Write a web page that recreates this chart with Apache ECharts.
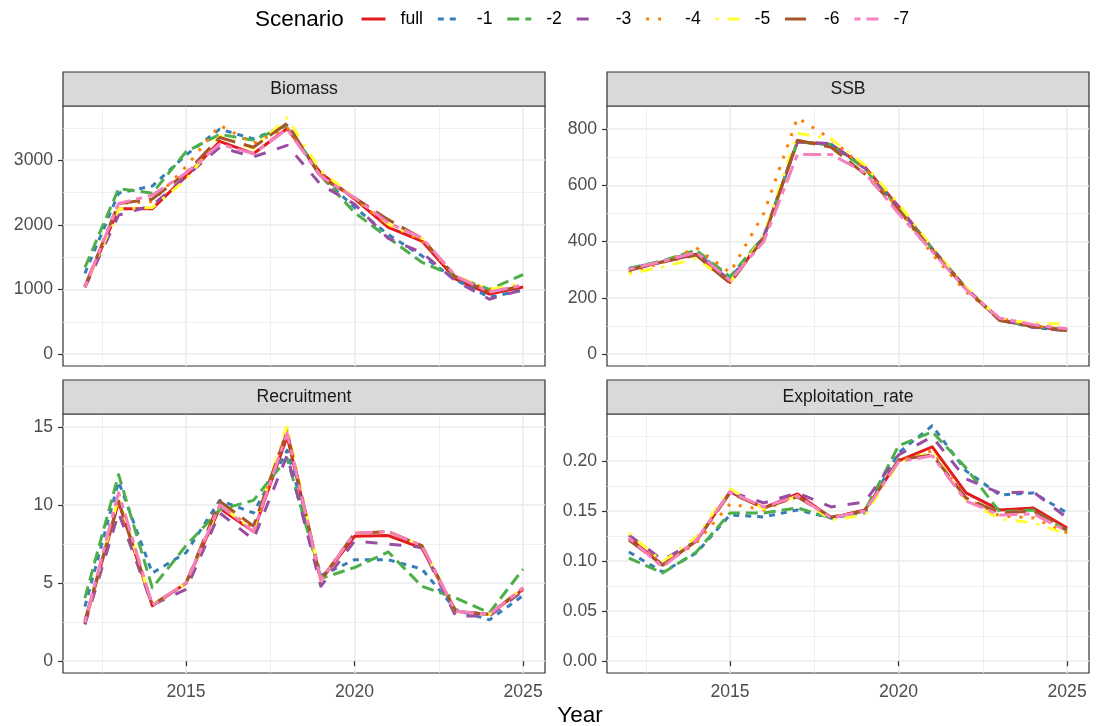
<!DOCTYPE html>
<html><head><meta charset="utf-8">
<script src="https://cdn.jsdelivr.net/npm/echarts@6/dist/echarts.min.js"></script>
<style>html,body{margin:0;padding:0;background:#fff}#c{width:1098px;height:726px}</style>
</head><body><div id="c"></div>
<script>
// ---------------- data ----------------
const years = [2012,2013,2014,2015,2016,2017,2018,2019,2020,2021,2022,2023,2024,2025];
const scenarios = ['full','-1','-2','-3','-4','-5','-6','-7'];
const colors = ['#E41A1C','#377EB8','#4DAF4A','#984EA3','#FF7F00','#FFFF33','#A65628','#F781BF'];

// rows in scenario order: full, -1 ... -7
const biomass = [
  [1040,2250,2250,2750,3290,3100,3490,2800,2400,1960,1750,1160,930,1040],
  [1250,2490,2600,3080,3480,3330,3540,2750,2270,1850,1520,1150,880,990],
  [1340,2560,2490,3130,3400,3310,3540,2760,2190,1800,1420,1200,1000,1230],
  [1030,2150,2300,2750,3200,3050,3230,2620,2320,1790,1570,1130,850,1000],
  [1050,2330,2360,2900,3540,3260,3500,2780,2400,2000,1760,1200,990,1080],
  [1040,2250,2270,2700,3370,3180,3655,2830,2430,2010,1790,1210,1000,1100],
  [1050,2330,2400,2800,3350,3200,3570,2730,2420,2080,1790,1190,960,1050],
  [1040,2330,2460,2800,3250,3100,3480,2750,2420,2030,1800,1210,960,1070]
];
const ssb = [
  [300,328,355,255,415,755,745,665,525,375,235,122,98,85],
  [305,330,365,268,418,755,745,660,520,372,232,122,95,84],
  [305,332,370,275,420,755,745,660,520,375,235,122,100,86],
  [300,328,360,262,415,755,748,662,522,375,235,122,96,82],
  [290,325,378,290,500,840,765,660,515,355,222,128,100,88],
  [285,310,340,255,420,785,765,672,535,380,238,125,110,108],
  [298,328,352,252,412,760,735,640,512,370,232,120,98,84],
  [302,330,362,262,400,710,710,645,500,365,230,128,105,90]
];
const recruitment = [
  [2.45,10.2,3.55,5.0,9.8,8.3,14.4,5.2,8.0,8.05,7.25,3.2,3.0,4.6],
  [3.5,11.5,5.65,6.95,10.3,9.5,13.5,5.5,6.5,6.5,5.9,3.3,2.65,4.2],
  [4.05,11.95,4.7,7.4,9.7,10.3,13.0,5.3,6.0,7.0,4.8,4.05,3.1,5.9],
  [2.35,9.5,3.6,4.6,9.5,7.8,13.2,4.8,7.7,7.5,7.3,2.9,2.9,4.5],
  [2.5,10.3,3.6,5.0,10.0,8.5,14.8,5.2,8.2,8.3,7.4,3.2,3.0,4.6],
  [2.5,10.5,3.6,5.0,10.0,8.4,15.08,5.2,8.2,8.3,7.4,3.2,3.0,4.7],
  [2.6,10.25,3.6,5.0,10.25,8.65,14.7,5.2,8.2,8.3,7.4,3.2,3.0,4.7],
  [2.5,10.8,3.6,5.0,10.0,8.3,14.6,5.2,8.2,8.3,7.4,3.2,3.0,4.7]
];
const exploitation = [
  [0.123,0.096,0.120,0.169,0.153,0.167,0.143,0.151,0.200,0.214,0.168,0.151,0.153,0.133],
  [0.109,0.089,0.108,0.146,0.144,0.151,0.143,0.148,0.208,0.235,0.190,0.166,0.168,0.148],
  [0.103,0.088,0.109,0.148,0.148,0.153,0.143,0.150,0.215,0.229,0.193,0.149,0.151,0.130],
  [0.126,0.101,0.120,0.169,0.158,0.168,0.154,0.159,0.206,0.224,0.182,0.168,0.169,0.143],
  [0.123,0.096,0.118,0.157,0.151,0.165,0.143,0.150,0.200,0.210,0.163,0.145,0.143,0.128],
  [0.128,0.099,0.124,0.172,0.152,0.165,0.141,0.146,0.198,0.209,0.161,0.142,0.138,0.127],
  [0.121,0.096,0.120,0.168,0.153,0.164,0.144,0.150,0.201,0.206,0.163,0.148,0.150,0.131],
  [0.123,0.094,0.121,0.169,0.154,0.165,0.143,0.150,0.199,0.205,0.160,0.146,0.147,0.130]
];

const panelNames = ['Biomass','SSB','Recruitment','Exploitation_rate'];
const xTicks = [2015,2020,2025];
const xMinor = [2012.5,2017.5,2022.5];
const biomassTicks = [0,1000,2000,3000];
const biomassMinor = [500,1500,2500,3500];
const ssbTicks = [0,200,400,600,800];
const ssbMinor = [100,300,500,700];
const recTicks = [0,5,10,15];
const recMinor = [2.5,7.5,12.5];
const expTicks = [0,0.05,0.10,0.15,0.20];
const expMinor = [0.025,0.075,0.125,0.175,0.225];

// ---------------- layout / style ----------------
const FONT = 'Liberation Sans, Arial, sans-serif';
const SMALL = 17.6, BIG = 22.5;
const PW = 482, PH = [260, 259];
const LEFTS = [63, 607], TOPS = [106, 414], STRIP_H = 34;
const LW = 3;
const dashes = [
  'solid',
  [2*LW, 2*LW],
  [4*LW, 2*LW],
  [4*LW, 4*LW],
  [1*LW, 3*LW],
  [1*LW, 3*LW, 4*LW, 3*LW],
  [7*LW, 3*LW],
  [2*LW, 2*LW, 6*LW, 2*LW]
];

const panelData = [biomass, ssb, recruitment, exploitation];
const panelTicks = [biomassTicks, ssbTicks, recTicks, expTicks];
const panelMinor = [biomassMinor, ssbMinor, recMinor, expMinor];
const xMin = years[0] - 0.05*(years[years.length-1]-years[0]);
const xMax = years[years.length-1] + 0.05*(years[years.length-1]-years[0]);

const grids = [], xAxes = [], yAxes = [], series = [], graphics = [];
for (let p = 0; p < 4; p++) {
  const col = p % 2, row = Math.floor(p / 2);
  const left = LEFTS[col], top = TOPS[row], h = PH[row];
  grids.push({left: left, top: top, width: PW, height: h, show: true,
    borderColor: '#333333', borderWidth: 1.2, backgroundColor: 'transparent', containLabel: false});
  const dmax = Math.max(...panelData[p].flat());
  const yMin = -0.05*dmax, yMax = 1.05*dmax;
  const bottomRow = row === 1;
  xAxes.push({type: 'value', gridIndex: p, min: xMin, max: xMax,
    axisLine: {show: false},
    axisTick: {show: bottomRow, length: 5, lineStyle: {color: '#333333', width: 1.2}, customValues: xTicks},
    axisLabel: {show: bottomRow, customValues: xTicks, margin: 10, color: '#4D4D4D', fontSize: SMALL, fontFamily: FONT,
      formatter: v => String(v)},
    splitLine: {show: true, lineStyle: {color: '#EBEBEB', width: 1.6}}
  });
  yAxes.push({type: 'value', gridIndex: p, min: yMin, max: yMax,
    axisLine: {show: false},
    axisTick: {show: true, length: 5, lineStyle: {color: '#333333', width: 1.2}, customValues: panelTicks[p]},
    axisLabel: {show: true, customValues: panelTicks[p], margin: 10, color: '#4D4D4D', fontSize: SMALL, fontFamily: FONT,
      formatter: p === 3 ? (v => v.toFixed(2)) : (v => String(v))},
    splitLine: {show: true, lineStyle: {color: '#EBEBEB', width: 1.6}}
  });
  graphics.push({type: 'rect', shape: {x: left, y: top - STRIP_H, width: PW, height: STRIP_H},
    style: {fill: '#D9D9D9', stroke: '#333333', lineWidth: 1.2}, z: 10});
  graphics.push({type: 'text', x: left + PW/2, y: top - STRIP_H/2,
    style: {text: panelNames[p], textAlign: 'center', textVerticalAlign: 'middle', font: SMALL + 'px ' + FONT, fill: '#1A1A1A'}, z: 11});
}
// minor grid axes
for (let p = 0; p < 4; p++) {
  const dmax = Math.max(...panelData[p].flat());
  xAxes.push({type: 'value', gridIndex: p, min: xMin, max: xMax,
    axisLine: {show: false}, axisLabel: {show: false},
    axisTick: {show: false, customValues: xMinor},
    splitLine: {show: true, lineStyle: {color: '#EBEBEB', width: 0.8}}});
  yAxes.push({type: 'value', gridIndex: p, min: -0.05*dmax, max: 1.05*dmax,
    axisLine: {show: false}, axisLabel: {show: false},
    axisTick: {show: false, customValues: panelMinor[p]},
    splitLine: {show: true, lineStyle: {color: '#EBEBEB', width: 0.8}}});
}
for (let p = 0; p < 4; p++) {
  for (let s = 0; s < scenarios.length; s++) {
    series.push({
      type: 'line', name: scenarios[s], xAxisIndex: p, yAxisIndex: p,
      data: years.map((y, k) => [y, panelData[p][s][k]]),
      symbol: 'none', showSymbol: false, smooth: false,
      lineStyle: {color: colors[s], width: LW, type: dashes[s], cap: 'butt', join: 'round'},
      itemStyle: {color: colors[s]},
      emphasis: {disabled: true},
      z: 2 + s * 0.01
    });
  }
}

graphics.push({type: 'text', x: 255, y: 20,
  style: {text: 'Scenario', textAlign: 'left', textVerticalAlign: 'middle', font: BIG + 'px ' + FONT, fill: '#000000'}});
graphics.push({type: 'text', x: 580, y: 716,
  style: {text: 'Year', textAlign: 'center', textVerticalAlign: 'middle', font: BIG + 'px ' + FONT, fill: '#000000'}});

const chart = echarts.init(document.getElementById('c'), null, {renderer: 'canvas'});
chart.setOption({
  animation: false,
  backgroundColor: '#ffffff',
  legend: {
    data: scenarios, left: 360, top: 10, padding: 0, orient: 'horizontal',
    itemWidth: 24, itemHeight: 20, itemGap: 13.3,
    itemStyle: {opacity: 0},
    lineStyle: {width: LW},
    textStyle: {fontSize: SMALL, fontFamily: FONT, color: '#000000', padding: [0, 0, 0, 10]},
    selectedMode: false
  },
  grid: grids, xAxis: xAxes, yAxis: yAxes, series: series, graphic: graphics
});
</script></body></html>
